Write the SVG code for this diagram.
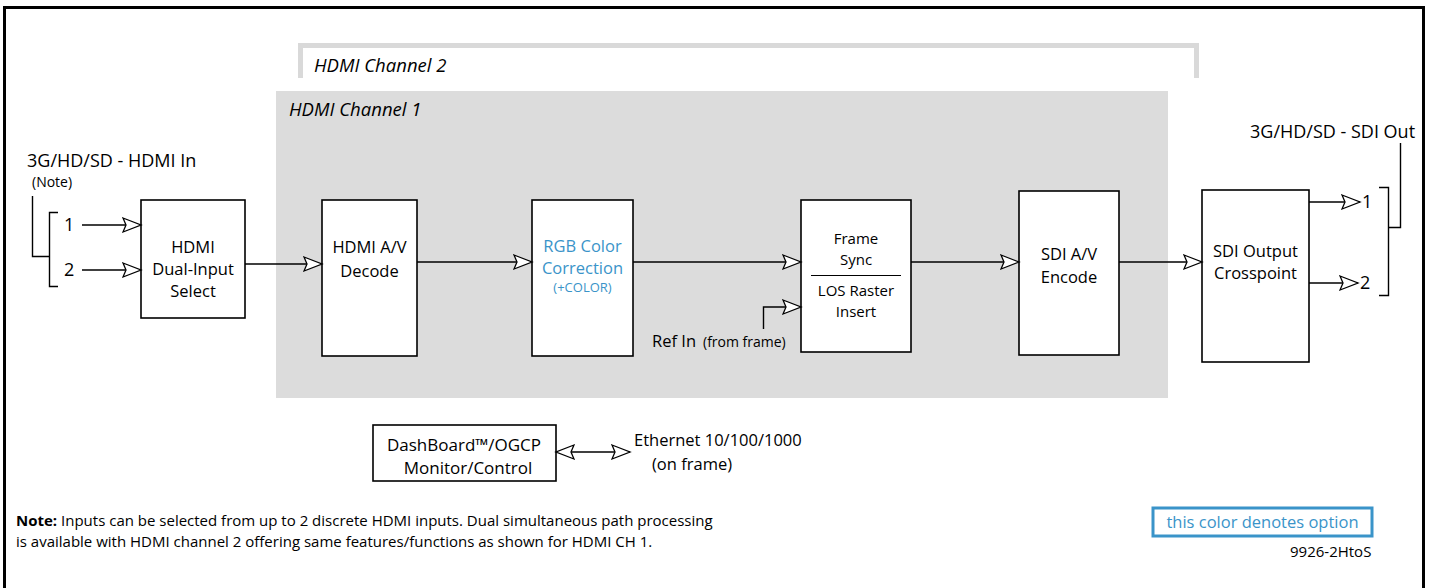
<svg xmlns="http://www.w3.org/2000/svg" width="1429" height="588" viewBox="0 0 1429 588">
<defs>
<marker id="ah" markerUnits="userSpaceOnUse" markerWidth="22" markerHeight="18" refX="19" refY="8" orient="auto-start-reverse" viewBox="0 0 22 18">
<path d="M1,1 L19,8 L1,15 L4,8 Z" fill="#fff" stroke="#000" stroke-width="1.3" stroke-linejoin="miter"/>
</marker>
</defs>
<style>
text{font-family:"Open Sans","Noto Sans","Liberation Sans",sans-serif;fill:#000}
.box{fill:#fff;stroke:#000;stroke-width:1.6}
.t{font-size:16.5px;text-anchor:middle}
.blue{fill:#3a94c9}
.ln{fill:none;stroke:#000;stroke-width:1.4}
.ar{fill:none;stroke:#000;stroke-width:1.4;marker-end:url(#ah)}
.lbl{font-size:18px}
.it{font-style:italic;font-size:18.5px}
</style>
<rect x="0" y="0" width="1429" height="588" fill="#fff"/>
<path d="M4.5,600 V7.5 H1423.5 V600" fill="none" stroke="#000" stroke-width="3"/>

<g id="channel2">
<path d="M300.5,78 V45.5 H1196.5 V78" fill="none" stroke="#d9d9d9" stroke-width="5"/>
<text x="314" y="72" class="it">HDMI Channel 2</text>
</g>
<g id="channel1">
<rect x="276" y="91" width="892" height="307" fill="#dcdcdc"/>
<text x="289" y="116" class="it">HDMI Channel 1</text>
</g>

<g id="input-label">
<text x="27" y="167" class="lbl">3G/HD/SD - HDMI In</text>
<text x="32" y="187" style="font-size:14px">(Note)</text>
<text x="64" y="231" class="lbl">1</text>
<text x="64" y="276" class="lbl">2</text>
</g>

<g id="hdmi-select">
<rect class="box" x="141" y="200" width="104" height="118"/>
<text class="t" x="193" y="253">HDMI</text>
<text class="t" x="193" y="275">Dual-Input</text>
<text class="t" x="193" y="297">Select</text>
</g>
<g id="hdmi-decode">
<rect class="box" x="322" y="200" width="95" height="156"/>
<text class="t" x="369.5" y="253">HDMI A/V</text>
<text class="t" x="369.5" y="277">Decode</text>
</g>
<g id="rgb-cc">
<rect class="box" x="532" y="200" width="101" height="156"/>
<text class="t blue" x="582.5" y="252">RGB Color</text>
<text class="t blue" x="582.5" y="274">Correction</text>
<text class="t blue" x="582.5" y="292" style="font-size:13px">(+COLOR)</text>
</g>
<g id="frame-sync">
<rect class="box" x="801" y="200" width="110" height="152"/>
<text class="t" x="856" y="244" style="font-size:15px">Frame</text>
<text class="t" x="856" y="265" style="font-size:15px">Sync</text>
<line x1="811" y1="275.5" x2="901" y2="275.5" stroke="#000" stroke-width="1.2"/>
<text class="t" x="856" y="296" style="font-size:15px">LOS Raster</text>
<text class="t" x="856" y="317" style="font-size:15px">Insert</text>
</g>
<g id="sdi-encode">
<rect class="box" x="1019" y="191" width="100" height="164"/>
<text class="t" x="1069" y="260">SDI A/V</text>
<text class="t" x="1069" y="283">Encode</text>
</g>
<g id="sdi-crosspoint">
<rect class="box" x="1202" y="190" width="107" height="172"/>
<text class="t" x="1255.5" y="257">SDI Output</text>
<text class="t" x="1255.5" y="279">Crosspoint</text>
</g>
<g id="output-label">
<text x="1250" y="138" class="lbl">3G/HD/SD - SDI Out</text>
<text x="1362" y="208" class="lbl">1</text>
<text x="1360" y="289" class="lbl">2</text>
</g>

<g id="dashboard">
<rect class="box" x="373" y="425" width="183" height="56"/>
<text class="t" x="464" y="451" style="font-size:17px">DashBoard™/OGCP</text>
<text class="t" x="468" y="474" style="font-size:17px">Monitor/Control</text>
</g>
<g id="ethernet">
<text x="634" y="446" style="font-size:16.5px">Ethernet 10/100/1000</text>
<text x="652" y="470" style="font-size:16.5px">(on frame)</text>
</g>
<g id="refin">
<text x="652" y="347" style="font-size:16.5px">Ref In</text>
<text x="703" y="347" style="font-size:14px">(from frame)</text>
</g>

<g id="connectors">
<path class="ln" d="M32.5,196 V256.5 H49"/>
<path class="ln" d="M58,212.5 H49.5 V286.5 H58"/>
<path class="ar" d="M82,225 H141"/>
<path class="ar" d="M82,270 H141"/>
<path class="ar" d="M245,264 H322"/>
<path class="ar" d="M417,262 H532"/>
<path class="ar" d="M633,262 H801"/>
<path class="ar" d="M763.5,329 V307 H801"/>
<path class="ar" d="M911,262 H1019"/>
<path class="ar" d="M1119,262 H1202"/>
<path class="ar" d="M1309,202 H1360"/>
<path class="ar" d="M1309,283 H1358"/>
<path class="ln" d="M1379,187.5 H1388.5 V295.5 H1379"/>
<path class="ln" d="M1388.5,227.5 H1400.5 V143"/>
<path d="M556,452 H630" fill="none" stroke="#000" stroke-width="1.4" marker-start="url(#ah)" marker-end="url(#ah)"/>
</g>

<g id="note">
<text x="16" y="526" style="font-size:15px"><tspan font-weight="bold">Note:</tspan>  Inputs can be selected from up to 2 discrete HDMI inputs. Dual simultaneous path processing</text>
<text x="16" y="547" style="font-size:15px">is available with HDMI channel 2 offering same features/functions as shown for HDMI CH 1.</text>
</g>
<g id="legend">
<rect x="1153" y="508" width="219" height="28" fill="#fff" stroke="#3a94c9" stroke-width="3"/>
<text x="1262.5" y="528" class="blue" style="font-size:16.5px;text-anchor:middle">this color denotes option</text>
<text x="1290" y="557" style="font-size:15px">9926-2HtoS</text>
</g>
</svg>
